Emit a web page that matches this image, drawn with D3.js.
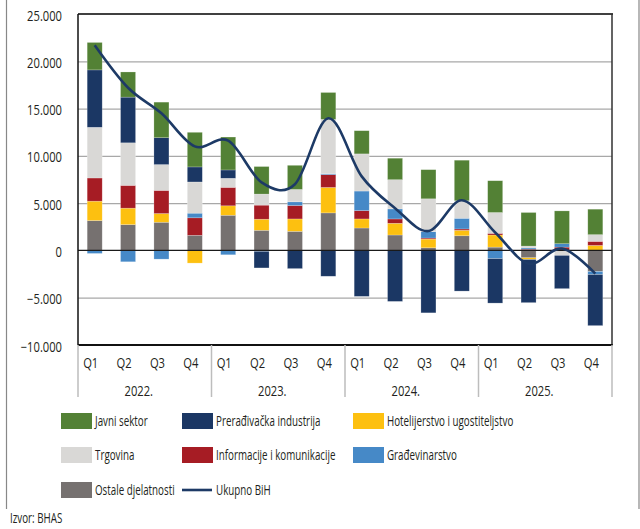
<!DOCTYPE html>
<html>
<head>
<meta charset="utf-8">
<script src="https://cdn.jsdelivr.net/npm/d3@7"></script>
<style>
  body { margin: 0; background: #fff; }
  text { font-family: "Open Sans", "Noto Sans", sans-serif; fill: #231f20; }
</style>
</head>
<body>
<div id="chart"></div>
<script>
var quarters = ["Q1", "Q2", "Q3", "Q4"];
var years = ["2022.", "2023.", "2024.", "2025."];

var seriesNames = ["Ostale djelatnosti", "Hotelijerstvo i ugostiteljstvo", "Informacije i komunikacije",
    "Građevinarstvo", "Trgovina", "Prerađivačka industrija", "Javni sektor"];

var ostale  = [3160, 2730, 2980, 1600, 3720, 2130, 2020, 3970, 2370, 1630, 280, 1550, 350, -780, 0, -2230];
var hotel   = [2050, 1740, 920, -1340, 1000, 1170, 1310, 2690, 960, 1240, 920, 580, 1280, -180, 0, 530];
var info    = [2450, 2410, 2450, 1850, 1950, 1490, 1420, 1350, 880, 460, 110, 140, 180, 130, 350, 430];
var gradj   = [-320, -1200, -920, 490, -460, -100, 390, 110, 2070, 1060, 670, 1130, -870, 130, 360, -320];
var trgov   = [5360, 4500, 2730, 3300, 960, 1170, 1310, 5740, 3930, 3090, 3480, 1850, 2200, 200, -530, 710];
var preradj = [6070, 4830, 2840, 1590, 880, -1750, -1920, -2730, -4860, -5390, -6600, -4300, -4700, -4560, -3510, -5400];
var javni   = [2900, 2660, 3760, 3660, 3480, 2910, 2550, 2840, 2450, 2270, 3080, 4290, 3360, 3550, 3470, 2690];
var ukupno  = [21700, 17200, 14500, 11000, 11600, 7200, 7000, 13970, 7830, 4470, 2050, 5300, 1900, -1400, 200, -2450];

var yTicks = [-10000, -5000, 0, 5000, 10000, 15000, 20000, 25000];

var colors = {
    "Javni sektor": "#538135",
    "Prerađivačka industrija": "#1b3764",
    "Hotelijerstvo i ugostiteljstvo": "#fdc010",
    "Trgovina": "#d9d8d6",
    "Informacije i komunikacije": "#a61c24",
    "Građevinarstvo": "#4689c7",
    "Ostale djelatnosti": "#767170"
};
var lineColor = "#1d3a66";

var seriesValues = [ostale, hotel, info, gradj, trgov, preradj, javni];

// one row per quarter
var rows = [];
years.forEach(function(y, yi) {
    quarters.forEach(function(q, qi) {
        var i = yi * 4 + qi;
        var row = { key: y + q, year: y, q: q, total: ukupno[i] };
        seriesNames.forEach(function(s, si) { row[s] = seriesValues[si][i]; });
        rows.push(row);
    });
});

var width = 640, height = 529;
var plot = { left: 78, right: 612, top: 14, bottom: 345 };

var svg = d3.select("#chart").append("svg")
    .attr("width", width)
    .attr("height", height);

// outer frame lines
svg.append("line").attr("x1", 6.5).attr("x2", 6.5).attr("y1", 0).attr("y2", 509)
    .attr("stroke", "#888").attr("stroke-width", 1.2);
svg.append("line").attr("x1", 639).attr("x2", 639).attr("y1", 0).attr("y2", 509)
    .attr("stroke", "#888").attr("stroke-width", 1.2);

var x = d3.scaleBand()
    .domain(rows.map(function(d) { return d.key; }))
    .range([plot.left, plot.right])
    .paddingInner(0.55)
    .paddingOuter(0.275);

var y = d3.scaleLinear()
    .domain([-10000, 25000])
    .range([plot.bottom, plot.top]);

// grid
svg.append("g").selectAll("line")
    .data(yTicks.filter(function(t) { return t !== 0 && t !== -10000 && t !== 25000; }))
    .enter().append("line")
    .attr("x1", plot.left).attr("x2", plot.right)
    .attr("y1", function(d) { return y(d) + 0.5; })
    .attr("y2", function(d) { return y(d) + 0.5; })
    .attr("stroke", "#a8a8a8").attr("stroke-width", 1.2);

var stack = d3.stack()
    .keys(seriesNames)
    .offset(d3.stackOffsetDiverging);

var layers = stack(rows);

svg.append("g").selectAll("g")
    .data(layers)
    .enter().append("g")
    .attr("fill", function(d) { return colors[d.key]; })
    .selectAll("rect")
    .data(function(d) { return d; })
    .enter().append("rect")
    .attr("x", function(d) { return x(d.data.key); })
    .attr("width", x.bandwidth())
    .attr("y", function(d) { return y(Math.max(d[0], d[1])); })
    .attr("height", function(d) { return Math.abs(y(d[0]) - y(d[1])); })
    .attr("stroke", "rgba(255,255,255,0.35)")
    .attr("stroke-width", 0.6);

// zero line
svg.append("line")
    .attr("x1", plot.left).attr("x2", plot.right)
    .attr("y1", y(0)).attr("y2", y(0))
    .attr("stroke", "#1a1a1a").attr("stroke-width", 1.2);

// total line
var line = d3.line()
    .x(function(d) { return x(d.key) + x.bandwidth() / 2; })
    .y(function(d) { return y(d.total); })
    .curve(d3.curveCardinal.tension(0));

svg.append("path")
    .datum(rows)
    .attr("d", line)
    .attr("fill", "none")
    .attr("stroke", lineColor)
    .attr("stroke-width", 2.6);

// plot frame
svg.append("line").attr("x1", plot.left).attr("x2", plot.right + 1)
    .attr("y1", plot.top).attr("y2", plot.top)
    .attr("stroke", "#404040").attr("stroke-width", 2);
svg.append("line").attr("x1", plot.right).attr("x2", plot.right)
    .attr("y1", plot.top).attr("y2", plot.bottom)
    .attr("stroke", "#303030").attr("stroke-width", 1.5);
svg.append("line").attr("x1", plot.left).attr("x2", plot.left)
    .attr("y1", plot.top).attr("y2", plot.bottom)
    .attr("stroke", "#111").attr("stroke-width", 1.5);
svg.append("line").attr("x1", plot.left).attr("x2", plot.right + 0.75)
    .attr("y1", plot.bottom).attr("y2", plot.bottom)
    .attr("stroke", "#111").attr("stroke-width", 2);

function label(g, tx, ty, str, anchor, size, k) {
    return g.append("text")
        .attr("transform", "translate(" + tx + "," + ty + ") scale(" + k + ",1)")
        .attr("text-anchor", anchor)
        .attr("dominant-baseline", "central")
        .style("font-size", size + "px")
        .text(str);
}

// y axis labels
var yAxisG = svg.append("g");
yTicks.forEach(function(t) {
    label(yAxisG, 62, y(t) + 1, d3.format(",")(t).replace(/,/g, "."), "end", 14, 0.8);
});

// category axis: separators, quarter and year labels
var catG = svg.append("g");
var groupEdges = [0, 4, 8, 12, 16].map(function(i) {
    return i < 16 ? x(rows[i].key) - x.step() * x.paddingInner() / 2 : plot.right;
});
groupEdges[0] = plot.left;
groupEdges.forEach(function(gx) {
    catG.append("line")
        .attr("x1", gx).attr("x2", gx)
        .attr("y1", plot.bottom).attr("y2", 397)
        .attr("stroke", "#bdbdbd").attr("stroke-width", 1.5);
});
rows.forEach(function(d) {
    label(catG, x(d.key) + x.bandwidth() / 2 - 4, 362, d.q, "middle", 14, 0.8);
});
years.forEach(function(yr, i) {
    label(catG, (groupEdges[i] + groupEdges[i + 1]) / 2 - 6, 390, yr, "middle", 14, 0.8);
});

// legend
var legendOrder = ["Javni sektor", "Prerađivačka industrija", "Hotelijerstvo i ugostiteljstvo",
    "Trgovina", "Informacije i komunikacije", "Građevinarstvo", "Ostale djelatnosti", "Ukupno BiH"];
var legendCols = [61, 182, 353];
var legendRows = [421, 455, 490];
var legend = svg.append("g");
legendOrder.forEach(function(name, i) {
    var lx = legendCols[i % 3], ly = legendRows[Math.floor(i / 3)];
    if (name === "Ukupno BiH") {
        legend.append("line")
            .attr("x1", lx).attr("x2", lx + 30)
            .attr("y1", ly).attr("y2", ly)
            .attr("stroke", lineColor).attr("stroke-width", 2.6);
    } else {
        legend.append("rect")
            .attr("x", lx).attr("y", ly - 8)
            .attr("width", 31).attr("height", 16)
            .attr("fill", colors[name]);
    }
    label(legend, lx + 34, ly, name, "start", 14, 0.7);
});

label(svg, 10, 518, "Izvor: BHAS", "start", 14, 0.7);
</script>
</body>
</html>
